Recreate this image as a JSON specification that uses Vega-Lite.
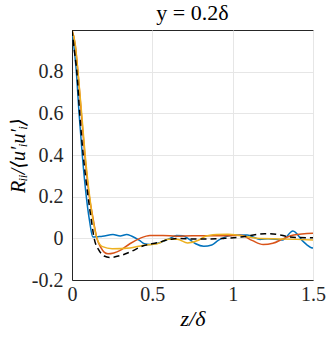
{
  "$schema": "https://vega.github.io/schema/vega-lite/v6.json",
  "width": 241,
  "height": 250,
  "autosize": {"type": "none"},
  "padding": {"left": 72, "top": 30, "right": 14, "bottom": 59},
  "background": "white",
  "config": {
    "view": {"stroke": "#262626", "strokeWidth": 1},
    "font": "'Liberation Serif', 'DejaVu Serif', serif"
  },
  "title": {
    "text": "y = 0.2δ",
    "font": "'Liberation Serif', 'DejaVu Serif', serif",
    "fontSize": 22,
    "fontWeight": "normal",
    "color": "#000000",
    "offset": 5
  },
  "datasets": {
    "curves": [
      {"s": "s1", "z": 0, "r": 1},
      {"s": "s1", "z": 0.015, "r": 0.9},
      {"s": "s1", "z": 0.027, "r": 0.8},
      {"s": "s1", "z": 0.044, "r": 0.6},
      {"s": "s1", "z": 0.064, "r": 0.4},
      {"s": "s1", "z": 0.089, "r": 0.2},
      {"s": "s1", "z": 0.11, "r": 0.08},
      {"s": "s1", "z": 0.13, "r": 0.006},
      {"s": "s1", "z": 0.16, "r": 0.008},
      {"s": "s1", "z": 0.19, "r": 0.01},
      {"s": "s1", "z": 0.255, "r": 0.018},
      {"s": "s1", "z": 0.3, "r": 0.011},
      {"s": "s1", "z": 0.34, "r": 0.018},
      {"s": "s1", "z": 0.37, "r": 0.011},
      {"s": "s1", "z": 0.42, "r": -0.01},
      {"s": "s1", "z": 0.45, "r": -0.026},
      {"s": "s1", "z": 0.485, "r": -0.03},
      {"s": "s1", "z": 0.55, "r": -0.02},
      {"s": "s1", "z": 0.61, "r": 0.0},
      {"s": "s1", "z": 0.65, "r": 0.014},
      {"s": "s1", "z": 0.69, "r": 0.012},
      {"s": "s1", "z": 0.73, "r": -0.005},
      {"s": "s1", "z": 0.77, "r": -0.026},
      {"s": "s1", "z": 0.82, "r": -0.038},
      {"s": "s1", "z": 0.87, "r": -0.032},
      {"s": "s1", "z": 0.91, "r": -0.01},
      {"s": "s1", "z": 0.95, "r": 0.006},
      {"s": "s1", "z": 1.0, "r": 0.015},
      {"s": "s1", "z": 1.09, "r": 0.016},
      {"s": "s1", "z": 1.17, "r": -0.005},
      {"s": "s1", "z": 1.22, "r": -0.002},
      {"s": "s1", "z": 1.31, "r": -0.008},
      {"s": "s1", "z": 1.375, "r": 0.035},
      {"s": "s1", "z": 1.44, "r": -0.016},
      {"s": "s1", "z": 1.49, "r": -0.045},
      {"s": "s1", "z": 1.5, "r": -0.046},

      {"s": "s2", "z": 0, "r": 1},
      {"s": "s2", "z": 0.02, "r": 0.93},
      {"s": "s2", "z": 0.037, "r": 0.8},
      {"s": "s2", "z": 0.058, "r": 0.6},
      {"s": "s2", "z": 0.08, "r": 0.4},
      {"s": "s2", "z": 0.108, "r": 0.2},
      {"s": "s2", "z": 0.13, "r": 0.1},
      {"s": "s2", "z": 0.155, "r": 0.0},
      {"s": "s2", "z": 0.18, "r": -0.045},
      {"s": "s2", "z": 0.2, "r": -0.066},
      {"s": "s2", "z": 0.224, "r": -0.074},
      {"s": "s2", "z": 0.26, "r": -0.07},
      {"s": "s2", "z": 0.3, "r": -0.058},
      {"s": "s2", "z": 0.36, "r": -0.026},
      {"s": "s2", "z": 0.423, "r": 0.0},
      {"s": "s2", "z": 0.485, "r": 0.014},
      {"s": "s2", "z": 0.566, "r": 0.014},
      {"s": "s2", "z": 0.65, "r": 0.01},
      {"s": "s2", "z": 0.75, "r": 0.013},
      {"s": "s2", "z": 0.85, "r": 0.013},
      {"s": "s2", "z": 0.95, "r": 0.013},
      {"s": "s2", "z": 1.05, "r": 0.015},
      {"s": "s2", "z": 1.12, "r": -0.01},
      {"s": "s2", "z": 1.19, "r": -0.03},
      {"s": "s2", "z": 1.25, "r": -0.024},
      {"s": "s2", "z": 1.32, "r": 0.0},
      {"s": "s2", "z": 1.38, "r": 0.016},
      {"s": "s2", "z": 1.5, "r": 0.024},

      {"s": "s3", "z": 0, "r": 1},
      {"s": "s3", "z": 0.02, "r": 0.93},
      {"s": "s3", "z": 0.037, "r": 0.8},
      {"s": "s3", "z": 0.06, "r": 0.6},
      {"s": "s3", "z": 0.082, "r": 0.4},
      {"s": "s3", "z": 0.11, "r": 0.2},
      {"s": "s3", "z": 0.14, "r": 0.05},
      {"s": "s3", "z": 0.16, "r": -0.01},
      {"s": "s3", "z": 0.19, "r": -0.04},
      {"s": "s3", "z": 0.25, "r": -0.05},
      {"s": "s3", "z": 0.36, "r": -0.046},
      {"s": "s3", "z": 0.44, "r": -0.034},
      {"s": "s3", "z": 0.53, "r": -0.026},
      {"s": "s3", "z": 0.6, "r": -0.004},
      {"s": "s3", "z": 0.655, "r": -0.004},
      {"s": "s3", "z": 0.72, "r": -0.022},
      {"s": "s3", "z": 0.79, "r": -0.008},
      {"s": "s3", "z": 0.83, "r": 0.01},
      {"s": "s3", "z": 0.9, "r": 0.018},
      {"s": "s3", "z": 0.97, "r": 0.02},
      {"s": "s3", "z": 1.05, "r": 0.013},
      {"s": "s3", "z": 1.15, "r": 0.0},
      {"s": "s3", "z": 1.3, "r": -0.003},
      {"s": "s3", "z": 1.4, "r": -0.005},
      {"s": "s3", "z": 1.5, "r": -0.008}
    ],
    "reference": [
      {"z": 0, "r": 1},
      {"z": 0.015, "r": 0.9},
      {"z": 0.03, "r": 0.8},
      {"z": 0.048, "r": 0.6},
      {"z": 0.07, "r": 0.4},
      {"z": 0.1, "r": 0.2},
      {"z": 0.12, "r": 0.09},
      {"z": 0.138, "r": 0.0},
      {"z": 0.17, "r": -0.06},
      {"z": 0.2, "r": -0.085},
      {"z": 0.236, "r": -0.092},
      {"z": 0.3, "r": -0.083},
      {"z": 0.36, "r": -0.066},
      {"z": 0.44, "r": -0.037},
      {"z": 0.53, "r": -0.021},
      {"z": 0.61, "r": -0.005},
      {"z": 0.66, "r": 0.0},
      {"z": 0.75, "r": -0.003},
      {"z": 0.85, "r": -0.003},
      {"z": 0.95, "r": 0.0},
      {"z": 1.05, "r": 0.006},
      {"z": 1.12, "r": 0.015},
      {"z": 1.2, "r": 0.022},
      {"z": 1.27, "r": 0.02},
      {"z": 1.33, "r": 0.01},
      {"z": 1.4, "r": 0.004},
      {"z": 1.5, "r": 0.003}
    ]
  },
  "encoding": {
    "x": {
      "field": "z",
      "type": "quantitative",
      "scale": {"domain": [0, 1.5], "nice": false, "zero": false},
      "axis": {
        "title": "z/δ",
        "titleFont": "'Liberation Serif', 'DejaVu Serif', serif",
        "titleFontStyle": "italic",
        "titleFontWeight": "normal",
        "titleFontSize": 22,
        "titleColor": "#000000",
        "titlePadding": 4,
        "values": [0, 0.5, 1, 1.5],
        "labelExpr": "replace(format(datum.value, '~g'), '−', '-')",
        "labelFont": "'Liberation Serif', 'DejaVu Serif', serif",
        "labelFontSize": 20,
        "labelColor": "#262626",
        "labelPadding": 4,
        "labelFlush": false,
        "ticks": false,
        "domainColor": "#262626",
        "grid": true,
        "gridColor": "#e6e6e6",
        "gridWidth": 1
      }
    },
    "y": {
      "field": "r",
      "type": "quantitative",
      "scale": {"domain": [-0.2, 1], "nice": false, "zero": false},
      "axis": {
        "title": "Rᵢᵢ/⟨u′ᵢu′ᵢ⟩",
        "titleFont": "'Liberation Serif', 'DejaVu Serif', serif",
        "titleFontStyle": "italic",
        "titleFontWeight": "normal",
        "titleFontSize": 20,
        "titleColor": "#000000",
        "titlePadding": 3,
        "values": [-0.2, 0, 0.2, 0.4, 0.6, 0.8],
        "labelExpr": "replace(format(datum.value, '~g'), '−', '-')",
        "labelFont": "'Liberation Serif', 'DejaVu Serif', serif",
        "labelFontSize": 20,
        "labelColor": "#262626",
        "labelPadding": 9,
        "labelFlush": false,
        "ticks": false,
        "domainColor": "#262626",
        "grid": true,
        "gridColor": "#e6e6e6",
        "gridWidth": 1
      }
    }
  },
  "layer": [
    {
      "data": {"name": "curves"},
      "mark": {"type": "line", "strokeWidth": 1.5, "interpolate": "monotone", "clip": true},
      "encoding": {
        "color": {
          "field": "s",
          "type": "nominal",
          "scale": {"domain": ["s1", "s2", "s3"], "range": ["#0072BD", "#D95319", "#EDB120"]},
          "legend": null
        }
      }
    },
    {
      "data": {"name": "reference"},
      "mark": {"type": "line", "strokeWidth": 1.5, "color": "#000000", "strokeDash": [6, 4], "interpolate": "monotone", "clip": true},
      "encoding": {}
    }
  ]
}
